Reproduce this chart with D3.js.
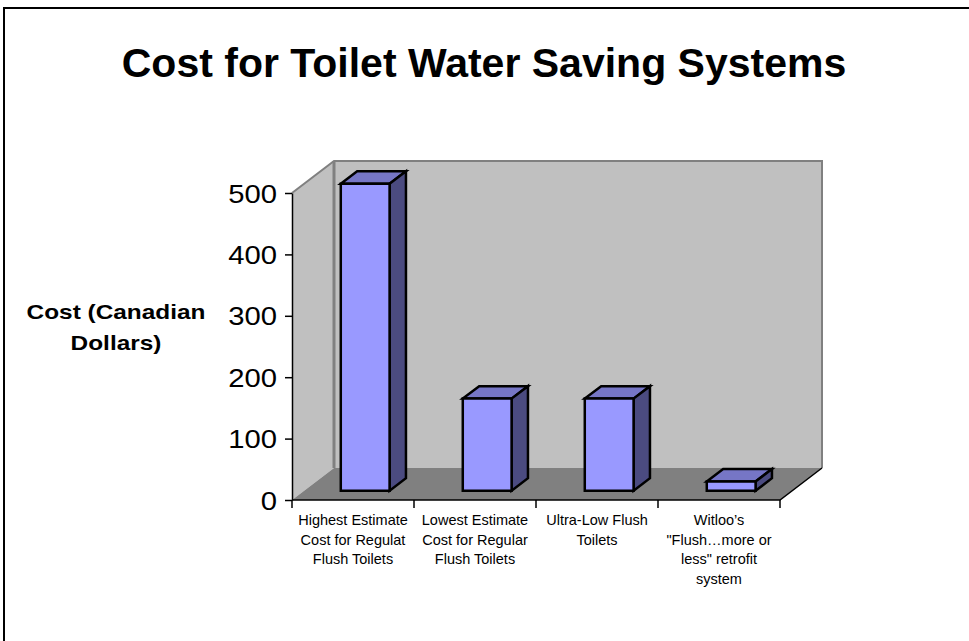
<!DOCTYPE html>
<html lang="en">
<head>
<meta charset="UTF-8">
<title>Cost for Toilet Water Saving Systems</title>
<script src="https://cdn.jsdelivr.net/npm/d3@7"></script>
<style>
  body { margin: 0; background: #fff; }
  text { font-family: "Liberation Sans", Arial, sans-serif; }
</style>
</head>
<body>
<div id="output"></div>
<script>

var categories = [
    ["Highest Estimate", "Cost for Regulat", "Flush Toilets"],
    ["Lowest Estimate", "Cost for Regular", "Flush Toilets"],
    ["Ultra-Low Flush", "Toilets"],
    ["Witloo\u2019s", "\"Flush\u2026more or", "less\" retrofit", "system"]
];
var costs = [500, 150, 150, 15];
var yTicks = [0, 100, 200, 300, 400, 500];

var w = 969, h = 641;
var svg = d3.select("#output").append("svg")
    .attr("width", w)
    .attr("height", h);

// outer frame
svg.append("path")
    .attr("d", "M4,641 L4,8 L969,8")
    .attr("fill", "none")
    .attr("stroke", "#000")
    .attr("stroke-width", 2);

svg.append("text")
    .attr("x", 484)
    .attr("y", 77)
    .attr("text-anchor", "middle")
    .style("font-size", "41px")
    .style("font-weight", "bold")
    .text("Cost for Toilet Water Saving Systems");

var x = d3.scaleBand()
    .domain(d3.range(categories.length))
    .range([292, 780]);

var y = d3.scaleLinear()
    .domain([0, 500])
    .range([500, 193]);

// depth of the 3d box
var DX = 42, DY = 32;
function p(px, py, z) { return [px + z * DX, py - z * DY]; }
function poly(pts) { return "M" + pts.map(function(d) { return d.join(","); }).join("L") + "Z"; }

var x0 = x.range()[0], x1 = x.range()[1], yb = y(0), yt = y(500);

// side wall
svg.append("path")
    .attr("d", poly([p(x0, yt, 0), p(x0, yt, 1), p(x0, yb, 1), p(x0, yb, 0)]))
    .attr("fill", "#c0c0c0");
// back wall
svg.append("path")
    .attr("d", poly([p(x0, yt, 1), p(x1, yt, 1), p(x1, yb, 1), p(x0, yb, 1)]))
    .attr("fill", "#c0c0c0");
// floor
svg.append("path")
    .attr("d", poly([p(x0, yb, 0), p(x1, yb, 0), p(x1, yb, 1), p(x0, yb, 1)]))
    .attr("fill", "#808080");

// wall edges
svg.append("path")
    .attr("d", "M" + p(x0, yt, 0) + "L" + p(x0, yt, 1) + "L" + p(x1, yt, 1) + "L" + p(x1, yb, 1))
    .attr("fill", "none")
    .attr("stroke", "#808080")
    .attr("stroke-width", 2);
svg.append("path")
    .attr("d", "M" + p(x0, yt, 1) + "L" + p(x0, yb, 1))
    .attr("stroke", "#808080")
    .attr("stroke-width", 3);

// bars
var zf = 0.29, zb = 0.68, bw = x.bandwidth() * 0.4;
var bars = svg.selectAll("g.bar").data(costs).enter().append("g").attr("class", "bar");
bars.each(function(d, i) {
    var g = d3.select(this);
    var l = x(i) + (x.bandwidth() - bw) / 2, r = l + bw;
    var top = y(d), bot = y(0);
    g.append("path")
        .attr("d", poly([p(l, top, zf), p(r, top, zf), p(r, top, zb), p(l, top, zb)]))
        .attr("fill", "#7676c6");
    g.append("path")
        .attr("d", poly([p(r, top, zf), p(r, top, zb), p(r, bot, zb), p(r, bot, zf)]))
        .attr("fill", "#4b4b80");
    g.append("path")
        .attr("d", poly([p(l, top, zf), p(r, top, zf), p(r, bot, zf), p(l, bot, zf)]))
        .attr("fill", "#9999ff");
    g.selectAll("path")
        .attr("stroke", "#000")
        .attr("stroke-width", 2.5)
        .attr("stroke-linejoin", "miter");
});

// front floor edges
svg.append("path")
    .attr("d", "M" + p(x0, yb, 0) + "L" + p(x1, yb, 0) + "L" + p(x1, yb, 1))
    .attr("fill", "none")
    .attr("stroke", "#000")
    .attr("stroke-width", 1.5);

// y axis
var yAxis = svg.append("g")
    .attr("transform", "translate(" + x0 + ",0)")
    .call(d3.axisLeft(y).tickValues(yTicks).tickSize(7).tickPadding(8).tickSizeOuter(0));
yAxis.select(".domain").attr("stroke", "#000").attr("stroke-width", 1.5);
yAxis.selectAll(".tick line").attr("stroke", "#000").attr("stroke-width", 1.5);
yAxis.selectAll(".tick text")
    .attr("x", 0)
    .attr("dy", "0.36em")
    .attr("transform", "translate(-15,0) scale(1.17,1)")
    .style("font-size", "25px")
    .style("font-family", "\"Liberation Sans\", Arial, sans-serif")
    .attr("fill", "#000");

// category ticks
svg.selectAll("line.ctick").data(d3.range(categories.length + 1)).enter().append("line")
    .attr("class", "ctick")
    .attr("x1", function(i) { return i < categories.length ? x(i) : x1; })
    .attr("x2", function(i) { return i < categories.length ? x(i) : x1; })
    .attr("y1", yb)
    .attr("y2", yb + 8)
    .attr("stroke", "#000")
    .attr("stroke-width", 1.5);

// category labels
svg.selectAll("text.cat").data(categories).enter().append("text")
    .attr("class", "cat")
    .attr("text-anchor", "middle")
    .style("font-size", "14.5px")
    .each(function(lines, i) {
        var t = d3.select(this);
        lines.forEach(function(s, k) {
            t.append("tspan")
                .attr("x", x(i) + x.bandwidth() / 2)
                .attr("y", 525 + k * 19.7)
                .text(s);
        });
    });

// y axis title
var yt2 = svg.append("g")
    .attr("transform", "translate(116,0) scale(1.22,1)")
    .append("text")
    .attr("text-anchor", "middle")
    .style("font-size", "20px")
    .style("font-weight", "bold");
yt2.append("tspan").attr("x", 0).attr("y", 319).text("Cost (Canadian");
yt2.append("tspan").attr("x", 0).attr("y", 350).text("Dollars)");

</script>
</body>
</html>
